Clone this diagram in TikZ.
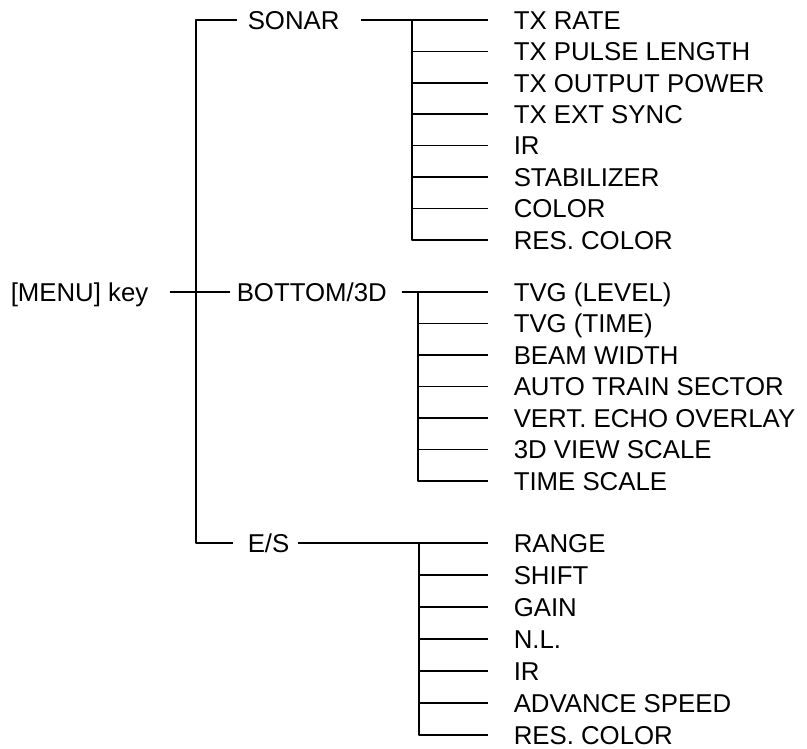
\documentclass[tikz,border=0pt]{standalone}
\usepackage{fontspec}
\setmainfont{Liberation Sans}
\usetikzlibrary{calc}

\begin{document}
\begin{tikzpicture}[x=1pt, y=-1pt, line width=1.5pt, line join=round,
  txt/.style={anchor=west, inner xsep=0pt, inner ysep=0pt,
    text height=18.5pt, text depth=0pt, font=\fontsize{25.8}{30}\selectfont}]
  \useasboundingbox (0,0) rectangle (807,749);
  % Touche et sous-menus
  \node[txt] (menu) at (10,292) {[MENU] key};
  \node[txt] (sonar) at (247,20) {SONAR};
  \node[txt] (bottom) at (236,292) {BOTTOM/3D};
  \node[txt] (es) at (247,543) {E/S};
  % Tronc principal
  \coordinate (haut) at (196,20);
  \coordinate (bas) at (196,543);
  \draw ([xshift=-10pt]sonar.west) -- (haut) -- (bas) -- ([xshift=-14pt]es.west);
  \draw ([xshift=21pt]menu.east) -- ([xshift=-6pt]bottom.west);
  % Menu SONAR
  \foreach \t [count=\i from 0] in {TX RATE, TX PULSE LENGTH, TX OUTPUT POWER,
      TX EXT SYNC, IR, STABILIZER, COLOR, RES. COLOR}
    \node[txt] (s\i) at (513,{20+31.4*\i}) {\t};
  \coordinate (sv) at (412,20);
  \draw ([xshift=21pt]sonar.east) -- (sv) -- (sv |- s7.west) -- ([xshift=-25pt]s7.west);
  \foreach \i in {0,...,6}
    \draw (sv |- s\i.west) -- ([xshift=-25pt]s\i.west);
  % Menu BOTTOM/3D
  \foreach \t [count=\i from 0] in {TVG (LEVEL), TVG (TIME), BEAM WIDTH,
      AUTO TRAIN SECTOR, VERT. ECHO OVERLAY, 3D VIEW SCALE, TIME SCALE}
    \node[txt] (b\i) at (513,{292+31.5*\i}) {\t};
  \coordinate (bv) at (418,292);
  \draw ([xshift=14pt]bottom.east) -- (bv) -- (bv |- b6.west) -- ([xshift=-25pt]b6.west);
  \foreach \i in {0,...,5}
    \draw (bv |- b\i.west) -- ([xshift=-25pt]b\i.west);
  % Menu E/S
  \foreach \t [count=\i from 0] in {RANGE, SHIFT, GAIN, N.L., IR,
      ADVANCE SPEED, RES. COLOR}
    \node[txt] (e\i) at (513,{543+32*\i}) {\t};
  \coordinate (ev) at (419,543);
  \draw ([xshift=8pt]es.east) -- (ev) -- (ev |- e6.west) -- ([xshift=-25pt]e6.west);
  \foreach \i in {0,...,5}
    \draw (ev |- e\i.west) -- ([xshift=-25pt]e\i.west);
\end{tikzpicture}
\end{document}
